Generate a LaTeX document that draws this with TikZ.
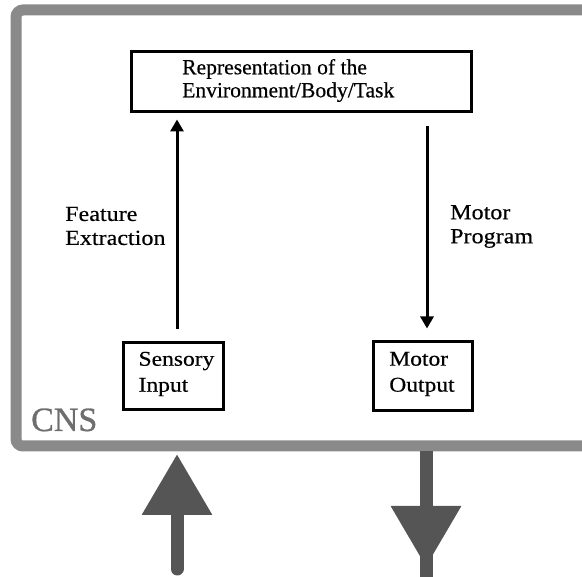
\documentclass[tikz,border=0pt]{standalone}
\usepackage{fontspec}
\setmainfont{Liberation Serif}[FakeBold=0.4]
\newfontfamily\widefont[FakeStretch=1.12, FakeBold=0.4]{Liberation Serif}
\newfontfamily\cnsfont[FakeBold=0.8]{Liberation Serif}
\usetikzlibrary{arrows.meta}

\definecolor{framegray}{HTML}{8A8A8A}
\definecolor{portgray}{HTML}{555555}
\definecolor{labelgray}{HTML}{6E6E6E}

\tikzset{
  cnsframe/.style={draw=framegray, line width=11pt, rounded corners=7pt},
  box/.style={draw=black, line width=3pt, inner sep=0pt},
  boxtext/.style={inner sep=0pt, align=left, font=\widefont\fontsize{21pt}{26pt}\selectfont},
  steplabel/.style={inner sep=0pt, align=left, font=\widefont\fontsize{21.5pt}{24pt}\selectfont},
  thinarrow/.style={draw=black, line width=3pt, -{Triangle[width=13pt,length=12pt]}},
  portarrow/.style={draw=portgray, line width=13pt, line cap=round},
  porthead/.style={-{Triangle[width=67pt,length=61pt]}}
}

\begin{document}
\begin{tikzpicture}[x=1pt, y=-1pt]
  \useasboundingbox (0,0) rectangle (582,577);

  % CNS boundary (open on the right)
  \draw[cnsframe] (600,10) -- (16,10) -- (16,446) -- (600,446);
  \node[anchor=base west, inner sep=0pt, text=labelgray,
        font=\cnsfont\fontsize{34pt}{34pt}\selectfont] (cns) at (31,431) {CNS};

  % internal representation
  \node[box, minimum width=340pt, minimum height=60pt] (rep) at (301.5,81.5) {};
  \node[anchor=west, inner sep=0pt, align=left,
        font=\fontsize{21.6pt}{23pt}\selectfont] (reptext) at (182,80.5)
        {Representation of the\\Environment/Body/Task};

  % sensory and motor boxes
  \node[box, minimum width=100pt, minimum height=67pt] (sens) at (173.5,376) {};
  \node[boxtext] (senstext) at (176.5,374) {Sensory\\Input};
  \node[box, minimum width=99pt, minimum height=69pt] (motor) at (423,376) {};
  \node[boxtext] (motortext) at (422,374) {Motor\\Output};

  % processing arrows inside the CNS
  \draw[thinarrow, shorten <=12pt, shorten >=6.5pt]
    ([xshift=3.5pt]sens.north) -- ([xshift=3.5pt]sens.north |- rep.south);
  \draw[thinarrow, shorten <=13.5pt, shorten >=11.5pt]
    ([xshift=4pt]motor.north |- rep.south) -- ([xshift=4pt]motor.north);

  \node[steplabel, anchor=west] (feat) at (65,226) {Feature\\Extraction};
  \node[steplabel, anchor=west] (prog) at (450,226.5) {Motor\\Program};

  % input and output crossing the CNS boundary
  \coordinate (inlow) at (177,569);
  \coordinate (inedge) at (177,454);
  \coordinate (outedge) at (426,451);
  \coordinate (outtip) at (426,567);
  \coordinate (outlow) at (426,585);

  \draw[portarrow, porthead] (inlow) -- (inedge);
  \draw[portarrow, line cap=butt] (outedge) -- (outlow);
  \draw[portarrow, porthead, line cap=butt] (outedge) -- (outtip);
\end{tikzpicture}
\end{document}
